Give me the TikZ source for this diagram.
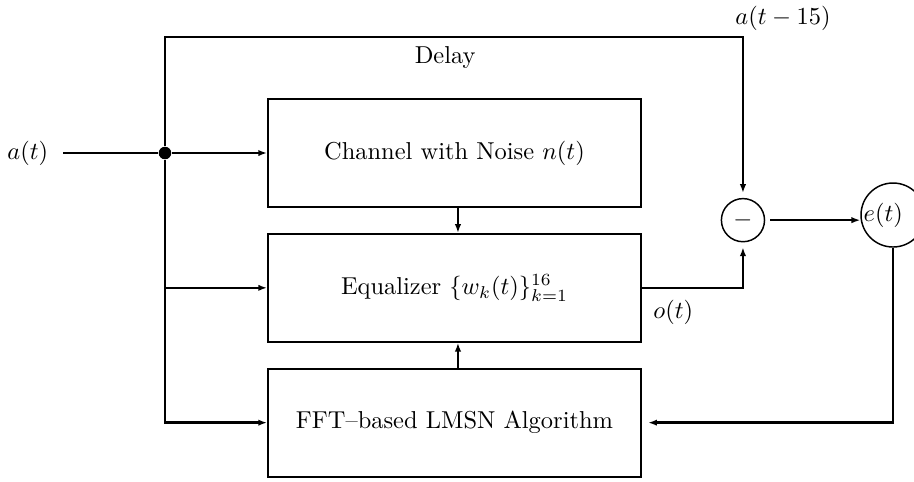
\documentclass[tikz,border=0pt]{standalone}
\usepackage{amsmath}
\usepackage{amssymb}
\usetikzlibrary{arrows.meta,positioning,calc}

\begin{document}
\begin{tikzpicture}[box/.style={rectangle,draw=black,thick,minimum width=5.36cm,minimum height=1.55cm},
	sumnode/.style={circle,draw=black,semithick,inner sep=0pt},
	junction/.style={circle,fill=black,inner sep=0pt,minimum size=0.18cm},
	>={Latex[length=3.6pt,width=2.6pt]}]
	\useasboundingbox (0,0) rectangle (13.14,6.915);
	% blocks
	\node[box] (chan) at (6.534,4.715) {Channel with Noise $n(t)$};
	\node[box,below=0.36cm of chan] (eq) {Equalizer $\{w_k(t)\}_{k=1}^{16}$};
	\node[box,below=0.36cm of eq] (fft) {FFT--based LMSN Algorithm};
	\node[sumnode,minimum size=0.62cm,outer sep=0.08cm] (minus) at (10.681,3.75) {$-$};
	\node[sumnode,minimum size=0.92cm,label={[xshift=-0.14cm]center:$e(t)$}] (et) at (12.838,3.824) {};
	\node[junction] (split) at (2.372,4.715) {};
	% labels
	\node (in) at (0.40,4.715) {$a(t)$};
	\node (delay) at (6.40,6.095) {Delay};
	\node (late) at (11.256,6.656) {$a(t-15)$};
	\node (out) at (9.68,2.43) {$o(t)$};
	\coordinate (start) at (0.906,4.715);
	\coordinate (top) at (10.681,6.383);
	% connectors
	\draw[thick] (start) -- (split);
	\draw[thick,->] (split) -- (chan.west);
	\draw[thick,->] (split |- eq.west) -- (eq.west);
	\draw[very thick,->] (split) |- (fft.west);
	\draw[very thick,->] (split) |- (top) -- (minus.north);
	\draw[thick,->] ([xshift=0.05cm]chan.south) -- ([xshift=0.05cm]eq.north);
	\draw[thick,->] ([xshift=0.05cm]fft.north) -- ([xshift=0.05cm]eq.south);
	\draw[thick,->] (eq.east) -| (minus.south);
	\draw[thick,->] (minus.east) -- (minus.east -| et.west);
	\draw[very thick,->,shorten >=0.09cm] (et.south) |- (fft.east);
\end{tikzpicture}
\end{document}
